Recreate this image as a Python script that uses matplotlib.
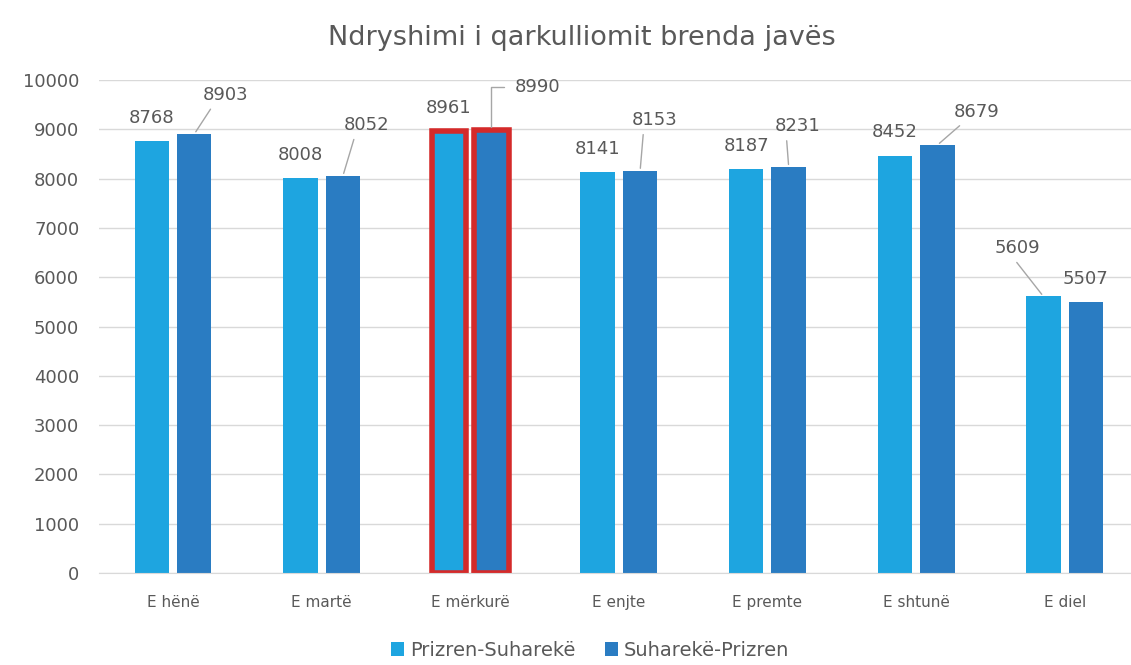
import matplotlib.pyplot as plt
import numpy as np

# data
days = ['E hënë', 'E martë', 'E mërkurë', 'E enjte', 'E premte', 'E shtunë', 'E diel']
prizren_suhareke = [8768, 8008, 8961, 8141, 8187, 8452, 5609]
suhareke_prizren = [8903, 8052, 8990, 8153, 8231, 8679, 5507]
series_names = ['Prizren-Suharekë', 'Suharekë-Prizren']

# label offsets in pixels (dx, dy from bar top)
offs_1 = [(0, -23), (0, -23), (0, -23), (0, -23), (0, -23), (0, -24), (-26, -48)]
offs_2 = [(31, -39), (24, -51), (46, -43), (15, -51), (9, -41), (39, -33), (-1, -23)]
leader_1 = [False, False, False, False, False, False, True]
leader_2 = [True, True, True, True, True, True, False]

c_light = '#1ea5e0'
c_dark = '#2a7cc2'
gray = '#595959'

fig = plt.figure(figsize=(11.31, 6.65), dpi=100)
ax = fig.add_axes([98.7 / 1131, 92 / 665, (1139 - 98.7) / 1131, 493 / 665])

x = np.arange(len(days))
w = 0.232
off = 0.143
b1 = ax.bar(x - off, prizren_suhareke, w, color=c_light, label=series_names[0], zorder=2)
b2 = ax.bar(x + off, suhareke_prizren, w, color=c_dark, label=series_names[1], zorder=2)

# red frame round the Wednesday bars
for b in (b1[2], b2[2]):
    b.set_edgecolor('#d42a2a')
    b.set_linewidth(4.0)

px = 72 / 100


def put_labels(xs, vals, offs, leads):
    for xi, v, (dx, dy), lead in zip(xs, vals, offs, leads):
        kw = {}
        if lead:
            if dx > 40:
                kw['arrowprops'] = dict(arrowstyle='-', color='#a6a6a6', lw=1,
                                        connectionstyle='angle,angleA=0,angleB=90,rad=0',
                                        relpos=(0, 0.5), shrinkA=6, shrinkB=2)
            else:
                rp = (0.25, 0) if dx > 0 else (0.4, 0)
                kw['arrowprops'] = dict(arrowstyle='-', color='#a6a6a6', lw=1,
                                        relpos=rp, shrinkA=2, shrinkB=2)
        ax.annotate(str(v), xy=(xi, v), xytext=(dx * px, -dy * px),
                    textcoords='offset points', ha='center', va='center',
                    fontsize=13, color=gray, annotation_clip=False, **kw)


put_labels(x - off, prizren_suhareke, offs_1, leader_1)
put_labels(x + off, suhareke_prizren, offs_2, leader_2)

ax.set_xlim(-0.5, len(days) - 0.5)
ax.set_ylim(0, 10000)
ax.set_yticks(range(0, 10001, 1000))
ax.set_xticks(x)
ax.set_xticklabels(days)
ax.grid(axis='y', color='#d9d9d9', lw=1, zorder=0)
for s in ['top', 'right', 'left']:
    ax.spines[s].set_visible(False)
ax.spines['bottom'].set_color('#d9d9d9')
ax.tick_params(axis='y', length=0, pad=14, labelsize=13, labelcolor=gray)
ax.tick_params(axis='x', length=0, pad=16, labelsize=11, labelcolor=gray)

fig.text(582 / 1131, 1 - 38 / 665, 'Ndryshimi i qarkulliomit brenda javës',
         ha='center', va='center', fontsize=19.5, color=gray)

fig.legend(loc='center', bbox_to_anchor=(590 / 1131, 1 - 650 / 665), ncol=2,
           frameon=False, fontsize=14, labelcolor=gray, handlelength=0.7,
           handleheight=0.7, handletextpad=0.3, columnspacing=1.5)

fig.savefig('out.png', dpi=100)
